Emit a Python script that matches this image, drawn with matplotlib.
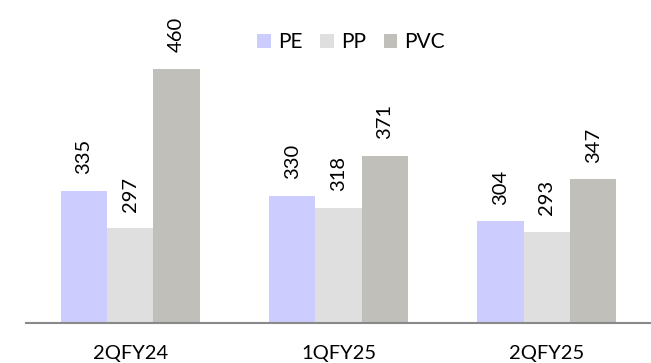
import matplotlib
matplotlib.use("Agg")
import matplotlib.pyplot as plt
import numpy as np

categories = ["2QFY24", "1QFY25", "2QFY25"]
series_names = ["PE", "PP", "PVC"]
pe = [335, 330, 304]
pp = [297, 318, 293]
pvc = [460, 371, 347]
colors = ["#CCCCFF", "#DFDFDF", "#C0BFBA"]

plt.rcParams['font.family'] = ['Lato', 'DejaVu Sans']

fig = plt.figure(figsize=(6.51, 3.63), dpi=100)
ax = fig.add_axes([26/651, 40/363, 625/651, 312.6/363])

x = np.arange(len(categories))
w = 0.2225
for i, (name, vals, c) in enumerate(zip(series_names, [pe, pp, pvc], colors)):
    pos = x + (i - 1) * w
    bars = ax.bar(pos, vals, width=w, color=c, label=name, zorder=2)
    for xp, v in zip(pos, vals):
        ax.annotate(f"{v}", (xp, v), xytext=(0, 12), textcoords="offset points",
                    rotation=90, ha="center", va="bottom", fontsize=14.5, color="#000000")

ax.set_xlim(-0.5, 2.5)
ax.set_ylim(200, 520)
ax.set_xticks(x)
ax.set_xticklabels(categories, fontsize=14.5)
ax.tick_params(axis='x', length=0, pad=16)
ax.set_yticks([])
for s in ["top", "right", "left"]:
    ax.spines[s].set_visible(False)
ax.spines["bottom"].set_color("#898989")
ax.spines["bottom"].set_linewidth(1.5)

fig.legend(loc="center", bbox_to_anchor=(351/651, 1 - 42/363), ncol=3, frameon=False,
           fontsize=15, handlelength=0.65, handleheight=0.65, handletextpad=0.35,
           columnspacing=0.85, borderaxespad=0, borderpad=0)

fig.savefig("out.png", dpi=100)
